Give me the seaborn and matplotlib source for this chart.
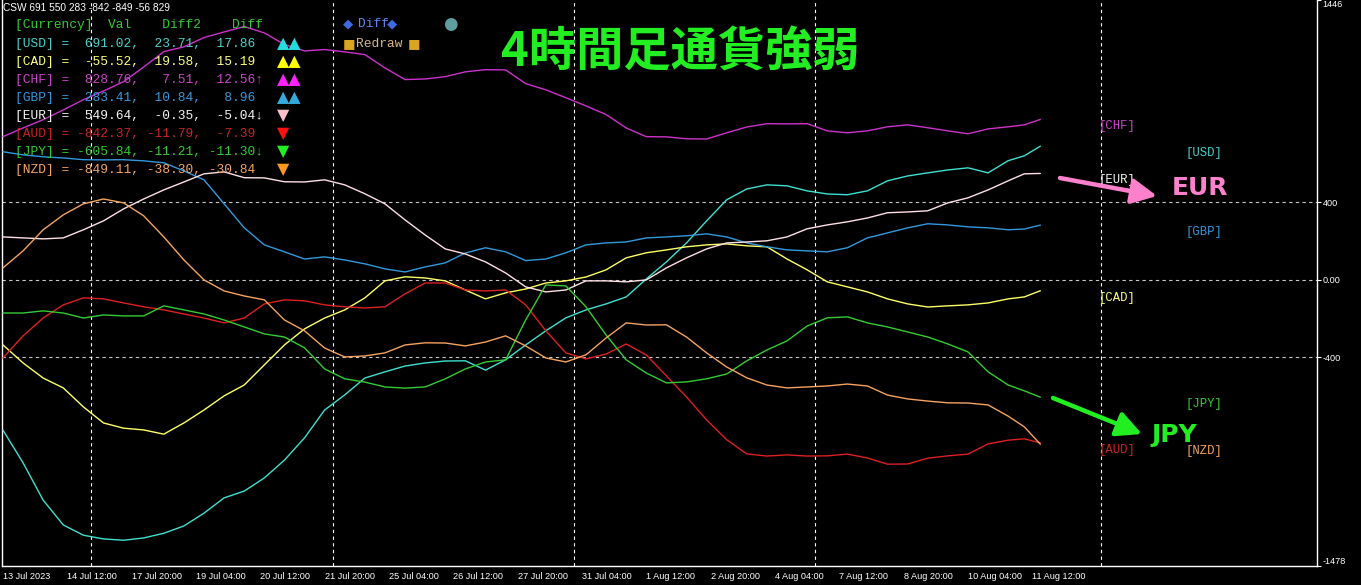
import numpy as np
import pandas as pd
import seaborn as sns
import matplotlib.pyplot as plt
from matplotlib.patches import FancyArrowPatch

# H4 bar index of each sampled point (bar 0 = 13 Jul 04:00)
bar_index = [0, 2.5, 5, 7.5, 10, 12.5, 15, 17.5, 20, 22.5, 25, 27.5, 30, 32.5, 35, 37.5,
             40, 42.5, 45, 47.5, 50, 52.5, 55, 57.5, 60, 62.5, 65, 67.5, 70, 72.5, 75, 77.5,
             80, 82.5, 85, 87.5, 90, 92.5, 95, 97.5, 100, 102.5, 105, 107.5, 110, 112.5,
             115, 117.5, 120, 122.5, 125, 127, 129]

usd = [-776, -945, -1138, -1266, -1319, -1338, -1345, -1333, -1309, -1271, -1205, -1126,
       -1091, -1023, -931, -816, -672, -594, -507, -475, -445, -429, -419, -418, -466, -413,
       -336, -263, -196, -155, -124, -88, 5, 93, 191, 305, 414, 470, 491, 486, 460, 444,
       440, 460, 512, 537, 553, 568, 579, 553, 616, 641, 691]
cad = [-336, -429, -507, -558, -656, -739, -766, -775, -797, -739, -672, -599, -543, -439,
       -336, -253, -197, -155, -93, -5, 16, 10, -5, -52, -98, -67, -47, -16, -5, 15, 52,
       114, 140, 155, 171, 181, 186, 176, 171, 108, 52, -10, -36, -62, -98, -124, -140,
       -134, -129, -119, -98, -88, -56]
chf = [740, 785, 828, 878, 931, 976, 1024, 1100, 1179, 1204, 1252, 1281, 1309, 1276, 1216,
       1183, 1190, 1178, 1164, 1095, 1035, 1038, 1050, 1075, 1086, 1085, 1014, 982, 941,
       899, 854, 785, 740, 739, 729, 728, 760, 790, 807, 806, 807, 770, 760, 770, 791,
       801, 786, 770, 755, 780, 791, 801, 829]
gbp = [662, 646, 636, 630, 621, 620, 621, 615, 605, 563, 517, 393, 269, 181, 145, 108, 119,
       103, 83, 57, 41, 67, 88, 139, 166, 145, 100, 108, 140, 181, 191, 196, 217, 222, 228,
       238, 222, 191, 171, 155, 150, 145, 166, 217, 243, 269, 290, 284, 274, 269, 259, 263,
       283]
eur = [222, 217, 212, 217, 259, 305, 367, 418, 465, 506, 548, 558, 528, 527, 507, 506, 517,
       491, 445, 393, 310, 232, 160, 134, 93, 36, -36, -62, -52, -5, -5, -10, 0, 62, 114,
       160, 191, 196, 202, 222, 264, 284, 300, 320, 347, 351, 357, 398, 424, 465, 512, 548,
       550]
aud = [-403, -289, -197, -129, -93, -98, -119, -139, -155, -176, -197, -222, -197, -124,
       -103, -108, -129, -139, -145, -139, -72, -16, -16, -52, -57, -52, -129, -263, -377,
       -408, -383, -331, -388, -496, -605, -723, -826, -899, -910, -904, -910, -909, -900,
       -920, -952, -951, -921, -909, -900, -847, -828, -821, -842]
jpy = [-171, -171, -160, -171, -197, -181, -186, -186, -134, -155, -176, -207, -243, -279,
       -295, -351, -460, -511, -528, -553, -559, -553, -511, -460, -424, -413, -207, -26,
       -31, -139, -285, -413, -481, -532, -527, -511, -486, -418, -362, -315, -238, -196,
       -191, -222, -243, -269, -295, -331, -372, -475, -543, -573, -606]
nzd = [62, 150, 259, 336, 393, 418, 398, 331, 222, 103, 0, -57, -83, -103, -207, -263,
       -352, -398, -393, -377, -336, -325, -326, -341, -321, -289, -341, -403, -424, -387,
       -300, -222, -233, -232, -295, -377, -450, -506, -543, -558, -553, -548, -538, -548,
       -595, -615, -626, -635, -636, -646, -704, -759, -849]

currencies = ["USD", "CAD", "CHF", "GBP", "EUR", "AUD", "JPY", "NZD"]
series = [usd, cad, chf, gbp, eur, aud, jpy, nzd]

# panel values (Val, Diff2, Diff)
val = [691.02, -55.52, 828.76, 283.41, 549.64, -842.37, -605.84, -849.11]
diff2 = [23.71, 19.58, 7.51, 10.84, -0.35, -11.79, -11.21, -38.30]
diff = [17.86, 15.19, 12.56, 8.96, -5.04, -7.39, -11.30, -30.84]
arrows = ["", "", "↑", "", "↓", "", "↓", ""]
marks = ["▲▲", "▲▲", "▲▲", "▲▲", "▼", "▼", "▼", "▼"]

tick_bars = [0, 8, 16, 24, 32, 40, 48, 56, 64, 72, 80, 88, 96, 104, 112, 120, 128]
tick_labels = ["13 Jul 2023", "14 Jul 12:00", "17 Jul 20:00", "19 Jul 04:00", "20 Jul 12:00",
               "21 Jul 20:00", "25 Jul 04:00", "26 Jul 12:00", "27 Jul 20:00", "31 Jul 04:00",
               "1 Aug 12:00", "2 Aug 20:00", "4 Aug 04:00", "7 Aug 12:00", "8 Aug 20:00",
               "10 Aug 04:00", "11 Aug 12:00"]
week_lines = [11, 41, 71, 101, 136.6]
y_ticks = [1446, 400, 0, -400, -1478]
y_tick_labels = ["1446", "400", "0.00", "-400", "-1478"]

line_colors = {"USD": "#40e0d0", "CAD": "#ffff66", "CHF": "#cc33cc", "GBP": "#3399dd",
               "EUR": "#ffe0e6", "AUD": "#dd2020", "JPY": "#33cc33", "NZD": "#f4a460"}
text_colors = {"USD": "#48d1cc", "CAD": "#ffff80", "CHF": "#cc44cc", "GBP": "#3399dd",
               "EUR": "#f4f4f4", "AUD": "#cc2222", "JPY": "#33cc33", "NZD": "#f4a460"}
mark_colors = {"USD": "#22dddd", "CAD": "#ffff00", "CHF": "#ff22ff", "GBP": "#33aadd",
               "EUR": "#ffc0cb", "AUD": "#ff1111", "JPY": "#22ee22", "NZD": "#ff9922"}

df = pd.DataFrame({
    "bar": bar_index * len(currencies),
    "value": np.concatenate(series),
    "currency": np.repeat(currencies, len(bar_index)),
})

sns.set_theme(style="dark", rc={"axes.facecolor": "black", "figure.facecolor": "black"})
plt.rcParams["font.family"] = ["DejaVu Sans", "Noto Sans CJK JP"]

W, H = 1361, 585
fig = plt.figure(figsize=(W / 100, H / 100), dpi=100, facecolor="black")
ax = fig.add_axes([2 / W, 19 / H, 1315 / W, 566 / H])
ax.set_facecolor("black")


def fx(px):
    return px / W


def fy(py):
    return 1 - py / H


dash = (0, (3, 3))
for y in [400, 0, -400]:
    ax.axhline(y, color="#c8c8c8", lw=0.8, ls=dash, zorder=1)
for x in week_lines:
    ax.axvline(x, color="white", lw=0.8, ls=dash, zorder=1)

sns.lineplot(data=df, x="bar", y="value", hue="currency", hue_order=currencies,
             palette=line_colors, linewidth=1.0, legend=False, ax=ax, zorder=3)

ax.set_xlim(-0.12, 163.4)
ax.set_ylim(-1478, 1446)
ax.set_xlabel("")
ax.set_ylabel("")
ax.grid(False)
for s in ["left", "right", "bottom"]:
    ax.spines[s].set_color("white")
    ax.spines[s].set_linewidth(1)
    ax.spines[s].set_visible(True)
ax.spines["top"].set_visible(False)

ax.set_xticks(tick_bars, tick_labels)
for lab in ax.get_xticklabels():
    lab.set_ha("left")
ax.yaxis.tick_right()
ax.set_yticks(y_ticks, y_tick_labels)
yl = ax.get_yticklabels()
yl[0].set_va("top")
yl[-1].set_va("bottom")
ax.tick_params(axis="both", colors="white", labelcolor="white", labelsize=6.6,
               length=3, width=0.8, direction="out", pad=1)
for lab in ax.get_xticklabels() + ax.get_yticklabels():
    lab.set_family("Liberation Sans")

# right-side currency tags, alternating columns by rank
order = sorted(range(len(currencies)), key=lambda i: -series[i][-1])
tag_cols = [136.2, 147.0]
for rank, i in enumerate(order):
    c = currencies[i]
    ax.text(tag_cols[rank % 2], series[i][-1] - 36, f"[{c}]", color=text_colors[c],
            fontsize=8.8, family=["Liberation Mono", "DejaVu Sans Mono"],
            va="center", ha="left", zorder=4)

# info panel
mono = ["Liberation Mono", "DejaVu Sans Mono"]
fig.text(fx(3), fy(8), "CSW 691 550 283 -842 -849 -56 829", color="white",
         fontsize=7.3, family="Liberation Sans", va="center", ha="left")
fig.text(fx(15), fy(25), "[Currency]  Val    Diff2    Diff", color="#33cc33",
         fontsize=9.3, family=mono, va="center", ha="left")
for i, c in enumerate(currencies):
    y = 44 + 18 * i
    row = f"[{c}] = {val[i]:7.2f}, {diff2[i]:6.2f}, {diff[i]:6.2f}{arrows[i]}"
    fig.text(fx(15), fy(y), row, color=text_colors[c], fontsize=9.3, family=mono,
             va="center", ha="left")
    fig.text(fx(277), fy(y), marks[i], color=mark_colors[c], fontsize=11.5,
             family="DejaVu Sans", va="center", ha="left")

fig.text(fx(343), fy(24), "◆", color="#4169e1", fontsize=9.5, va="center", ha="left")
fig.text(fx(358), fy(24), "Diff", color="#6688ee", fontsize=9.3, family=mono, va="center", ha="left")
fig.text(fx(387), fy(24), "◆", color="#4169e1", fontsize=9.5, va="center", ha="left")
fig.text(fx(443), fy(24), "●", color="#5f9ea0", fontsize=12, va="center", ha="left")
fig.text(fx(343), fy(44), "■", color="#daa520", fontsize=9.5, va="center", ha="left")
fig.text(fx(356), fy(44), "Redraw", color="#d8b888", fontsize=9.3, family=mono, va="center", ha="left")
fig.text(fx(408), fy(44), "■", color="#daa520", fontsize=9.5, va="center", ha="left")

# title and annotations
fig.text(fx(501), fy(52), "4時間足通貨強弱", color="#22ee22", fontsize=34, fontweight="bold",
         family=["Noto Sans CJK JP", "DejaVu Sans"], va="center", ha="left")
fig.text(fx(1172), fy(188), "EUR", color="#ff80cc", fontsize=18, fontweight="bold",
         va="center", ha="left")
fig.text(fx(1151), fy(435), "JPY", color="#22ee22", fontsize=18, fontweight="bold",
         va="center", ha="left")
for (x0, y0), (x1, y1), col in [((1060, 178), (1157, 196), "#ff80cc"),
                                ((1053, 398), (1142, 434), "#22ee22")]:
    fig.add_artist(FancyArrowPatch((fx(x0), fy(y0)), (fx(x1), fy(y1)),
                                   transform=fig.transFigure, arrowstyle="-|>",
                                   mutation_scale=38, lw=3.2, color=col,
                                   shrinkA=0, shrinkB=0))

fig.savefig("out.png", dpi=100, facecolor="black")
